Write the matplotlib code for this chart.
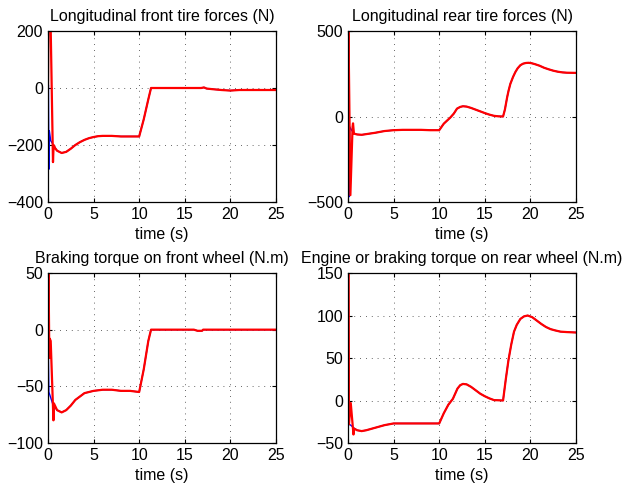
import numpy as np
import matplotlib.pyplot as plt

plt.rcParams['font.family'] = ['Liberation Sans', 'DejaVu Sans']

# --- longitudinal front tire force (N)
ff_t_blue = [0, 0.05, 0.1, 0.15, 0.3, 0.5, 0.7]
ff_v_blue = [0, 10, -285, -150, -185, -195, -205]
ff_t_red = [0, 0.1, 0.25, 0.55, 0.62, 0.8]
ff_v_red = [0, 400, 300, -260, -200, -212]
ff_t_tail = [1.0, 1.5, 2.0, 2.5, 3, 3.5, 4, 4.5, 5, 5.5, 6, 7, 8, 9, 10, 10.5, 11, 11.3,
             12, 14, 16, 16.8, 17.1, 17.4, 18, 19, 20, 21, 22, 25]
ff_v_tail = [-220, -228, -224, -213, -200, -190, -182, -176, -172, -169, -168, -168, -170, -170, -170,
             -110, -40, 0, 0, 0, 0, 0, 2, -2, -4, -7, -9, -7, -7, -7]

# --- longitudinal rear tire force (N)
fr_t_blue = [0, 0.02, 0.1, 0.18, 0.4, 0.65]
fr_v_blue = [0, 500, -470, -60, -80, -100]
fr_t_red = [0, 0.03, 0.26, 0.5, 0.55, 0.65]
fr_v_red = [0, 600, -460, -60, -40, -100]
fr_t_tail = [1, 1.5, 2, 3, 4, 5, 6, 8, 9, 10, 10.5, 11.2, 11.6, 11.95, 12.3, 12.6, 13, 13.5, 14, 14.5,
             15, 15.5, 16, 16.5, 17, 17.2, 17.45, 17.6, 17.8, 18.1, 18.35, 18.6, 18.9, 19.2, 19.5, 19.8,
             20.1, 20.5, 21, 21.5, 22, 22.5, 23, 23.5, 24, 25]
fr_v_tail = [-105, -107, -103, -95, -85, -80, -78, -78, -80, -80, -42, -7, 17, 46, 56, 60, 58, 50, 40, 30,
             20, 11, 4, 1, 0, 40, 113, 150, 191, 232, 260, 282, 300, 309, 313, 314,
             312, 306, 297, 285, 276, 268, 262, 258, 256, 255]

# --- braking torque on front wheel (N.m)
tf_t_blue = [0, 0.1, 0.3, 0.5, 0.7]
tf_v_blue = [0, -55, -60, -65, -68]
tf_t_red = [0, 0.05, 0.15, 0.2, 0.3, 0.6, 0.65]
tf_v_red = [0, 60, -25, -8, -10, -80, -65]
tf_t_tail = [1.0, 1.5, 2, 2.5, 3, 3.5, 4, 4.5, 5, 6, 7, 8, 9, 10, 10.5, 11, 11.3, 12, 16, 16.4,
             16.9, 17, 25]
tf_v_tail = [-71, -73, -71, -67, -62, -59, -56, -55, -54, -53, -53, -54, -54, -55, -35, -10, 0, 0, 0, -1,
             -1, 0, 0]

# --- engine or braking torque on rear wheel (N.m)
tr_t_blue = [0, 0.1, 0.3, 0.6]
tr_v_blue = [0, -28, -29, -32]
tr_t_red = [0, 0.03, 0.1, 0.3, 0.6, 0.65]
tr_v_red = [0, 160, -28, -3, -40, -33]
tr_t_tail = [1.0, 1.5, 2, 3, 4, 5, 6, 8, 10, 10.5, 11, 11.5, 12, 12.3, 12.6, 13, 13.5, 14, 14.5, 15,
             15.5, 16, 17, 17.3, 17.6, 17.9, 18.2, 18.5, 18.9, 19.3, 19.7, 20.2, 20.7, 21.2, 21.7, 22.2,
             22.7, 23.3, 24, 25]
tr_v_tail = [-35, -36, -35, -32, -29, -27, -27, -27, -27, -15, -5, 2, 14, 18, 19.5, 19, 16, 12, 8, 5,
             2.5, 0.5, 0, 25, 48, 66, 81, 89, 96, 99, 100, 98, 94, 90, 86.5, 84,
             82.5, 81, 80.5, 80]

panels = [
    ("Longitudinal front tire forces (N)", ff_t_blue, ff_v_blue, ff_t_red, ff_v_red, ff_t_tail, ff_v_tail,
     (-400, 200), [-400, -200, 0, 200]),
    ("Longitudinal rear tire forces (N)", fr_t_blue, fr_v_blue, fr_t_red, fr_v_red, fr_t_tail, fr_v_tail,
     (-500, 500), [-500, 0, 500]),
    ("Braking torque on front wheel (N.m)", tf_t_blue, tf_v_blue, tf_t_red, tf_v_red, tf_t_tail, tf_v_tail,
     (-100, 50), [-100, -50, 0, 50]),
    ("Engine or braking torque on rear wheel (N.m)", tr_t_blue, tr_v_blue, tr_t_red, tr_v_red, tr_t_tail,
     tr_v_tail, (-50, 150), [-50, 0, 50, 100, 150]),
]

positions = [
    [0.077, 0.5894, 0.366, 0.3476],
    [0.5586, 0.5894, 0.366, 0.3476],
    [0.077, 0.0996, 0.366, 0.3455],
    [0.5586, 0.0996, 0.366, 0.3455],
]

fig = plt.figure(figsize=(6.23, 4.92), dpi=100)
for pos, (title, tb, vb, tr, vr, tt, vt, ylim, yticks) in zip(positions, panels):
    ax = fig.add_axes(pos)
    ax.plot(tb + tt, vb + vt, color='blue', lw=1.0)
    ax.plot(tr + tt, vr + vt, color='red', lw=1.6)
    ax.set_xlim(0, 25)
    ax.set_ylim(*ylim)
    ax.set_xticks([0, 5, 10, 15, 20, 25])
    ax.set_yticks(yticks)
    ax.grid(True, color='#333333', linestyle=(0, (1, 6)), linewidth=0.6)
    ax.tick_params(direction='in', top=True, right=True, length=3, labelsize=11.5)
    for s in ax.spines.values():
        s.set_linewidth(0.9)
    ax.set_title(title, fontsize=11.5, pad=7.5)
    ax.set_xlabel("time (s)", fontsize=11.5, labelpad=4)

fig.savefig("out.png", dpi=100)
